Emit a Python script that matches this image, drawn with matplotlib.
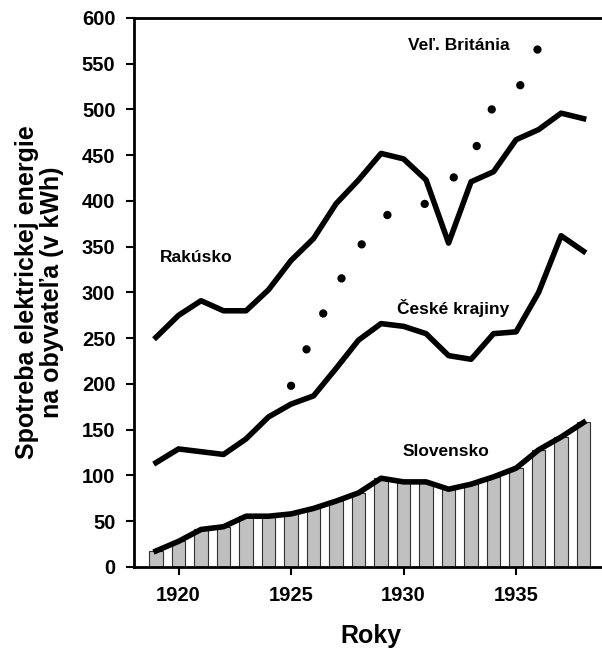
import matplotlib
matplotlib.use("Agg")
import matplotlib.pyplot as plt

plt.rcParams['font.family'] = ['Liberation Sans', 'DejaVu Sans']
plt.rcParams['font.weight'] = 'bold'

years = list(range(1919, 1939))
slovensko = [17.5, 28, 41, 44, 55.5, 55.5, 58, 64, 72, 81, 97, 93, 93, 85, 90.5, 98.5, 108, 128, 142, 158]
ceske = [114, 129, 126, 123, 140, 164, 178, 187, 217, 248, 266, 263, 255, 231, 227, 255, 257, 300, 362, 345]
rakusko = [251, 275, 291, 280, 280, 303, 335, 359, 397, 423, 452, 446, 423, 354, 421, 432, 467, 478, 496, 490]
gb_years = list(range(1925, 1937))
britania = [198, 256, 305, 348, 381, 394, 397, 420, 445, 505, 517, 568]

fig = plt.figure(figsize=(6.02, 6.52), dpi=100)
ax = fig.add_axes([0.2218, 0.1304, 0.785, 0.842])

ax.bar(years, slovensko, width=0.6, color='#c0c0c0', edgecolor='#303030', linewidth=0.8, zorder=2)
ax.plot(years, slovensko, color='black', lw=4, zorder=3)
ax.plot(years, ceske, color='black', lw=4, zorder=3)
ax.plot(years, rakusko, color='black', lw=4, zorder=3)
# round-dot line for Great Britain
ax.plot(gb_years, britania, color='black', lw=6, linestyle=(0, (0.01, 4.74)),
        dash_capstyle='round', zorder=3)

ax.text(1919.16, 338, 'Rakúsko', fontsize=12.5, fontweight='bold', va='center', ha='left')
ax.text(1930.18, 570, 'Veľ. Británia', fontsize=12.5, fontweight='bold', va='center', ha='left')
ax.text(1929.73, 283, 'České krajiny', fontsize=12.5, fontweight='bold', va='center', ha='left')
ax.text(1929.96, 126, 'Slovensko', fontsize=12.5, fontweight='bold', va='center', ha='left')

ax.set_xlim(1918, 1939)
ax.set_ylim(0, 600)
ax.set_xticks([1920, 1925, 1930, 1935])
ax.set_yticks(range(0, 601, 50))
ax.tick_params(axis='both', direction='out', length=6, width=1.5, labelsize=14.5, pad=7)
ax.tick_params(axis='x', pad=8)
for lab in ax.get_xticklabels() + ax.get_yticklabels():
    lab.set_fontweight('bold')

ax.spines['right'].set_visible(False)
for s in ['left', 'top', 'bottom']:
    ax.spines[s].set_linewidth(2)

fig.text(0.617, 0.024, 'Roky', fontsize=18, fontweight='bold', ha='center', va='center')
fig.text(0.066, 0.552, 'Spotreba elektrickej energie\nna obyvateľa (v kWh)', fontsize=18,
         fontweight='bold', rotation=90, ha='center', va='center', multialignment='center',
         linespacing=1.05)

fig.savefig('out.png', dpi=100)
